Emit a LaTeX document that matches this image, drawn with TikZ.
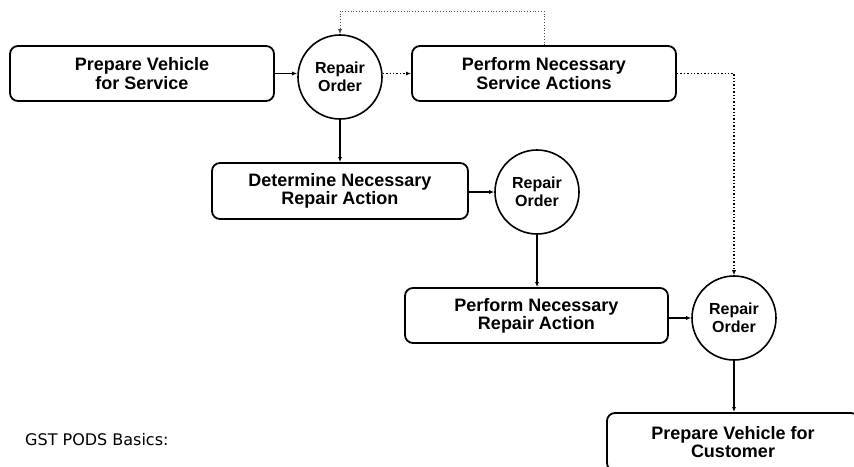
\documentclass[tikz,border=0pt]{standalone}
\usepackage{fontspec}
\setmainfont{Liberation Sans}
\newfontfamily\notefont{DejaVu Sans}
\usetikzlibrary{arrows.meta}
\begin{document}
\begin{tikzpicture}[x=1pt,y=-1pt,
  box/.style={draw, line width=1.8pt, rounded corners=8pt, align=center, inner sep=0pt,
     font=\fontsize{18}{18.3}\selectfont\bfseries},
  ro/.style={draw, circle, line width=1.6pt, minimum size=84pt, inner sep=0pt, align=center,
     font=\fontsize{16}{18}\selectfont\bfseries},
  solidarrow/.style={line width=1.5pt, -{Latex[length=5pt,width=4pt]}},
  dotarrow/.style={line width=1.4pt, dotted, -{Latex[length=5pt,width=4pt]}},
  thindot/.style={line width=0.8pt, dotted, draw=black!70, -{Latex[length=5pt,width=4pt]}}
]
\useasboundingbox (0,0) rectangle (854,466);
\node[box, minimum width=264pt, minimum height=55pt] (b1) at (142,73.5) {Prepare Vehicle\\for Service};
\node[ro] (c1) at (340,77) {Repair\\Order};
\node[box, minimum width=264pt, minimum height=55pt] (b2) at (544,73.5) {Perform Necessary\\Service Actions};
\node[box, minimum width=256pt, minimum height=56pt] (b3) at (340,191) {Determine Necessary\\Repair Action};
\node[ro] (c2) at (537,192) {Repair\\Order};
\node[box, minimum width=263pt, minimum height=55pt] (b4) at (536.5,315.5) {Perform Necessary\\Repair Action};
\node[ro] (c3) at (734,318) {Repair\\Order};
\node[box, minimum width=252pt, minimum height=58pt] (b5) at (733,442) {Prepare Vehicle for\\Customer};
\node[anchor=base west, inner sep=0pt, font=\notefont\fontsize{16}{18}\selectfont] (note) at (25,445) {GST PODS Basics:};

\coordinate (fb1) at (544,11);
\coordinate (fb2) at (340,11);
\coordinate (rd1) at (734,73.5);

\draw[solidarrow] (b1.east) -- (c1.west |- b1.east);
\draw[dotarrow] (c1.east |- b2.west) -- (b2.west);
\draw[thindot] (b2.north) -- (fb1) -- (fb2) -- (c1.north);
\draw[dotarrow] (b2.east) -- (rd1) -- (c3.north);
\draw[solidarrow] (c1.south) -- (b3.north -| c1.south);
\draw[solidarrow] (b3.east |- c2.west) -- (c2.west);
\draw[solidarrow] (c2.south) -- (b4.north -| c2.south);
\draw[solidarrow] (b4.east |- c3.west) -- (c3.west);
\draw[solidarrow] (c3.south) -- (b5.north -| c3.south);
\end{tikzpicture}
\end{document}
